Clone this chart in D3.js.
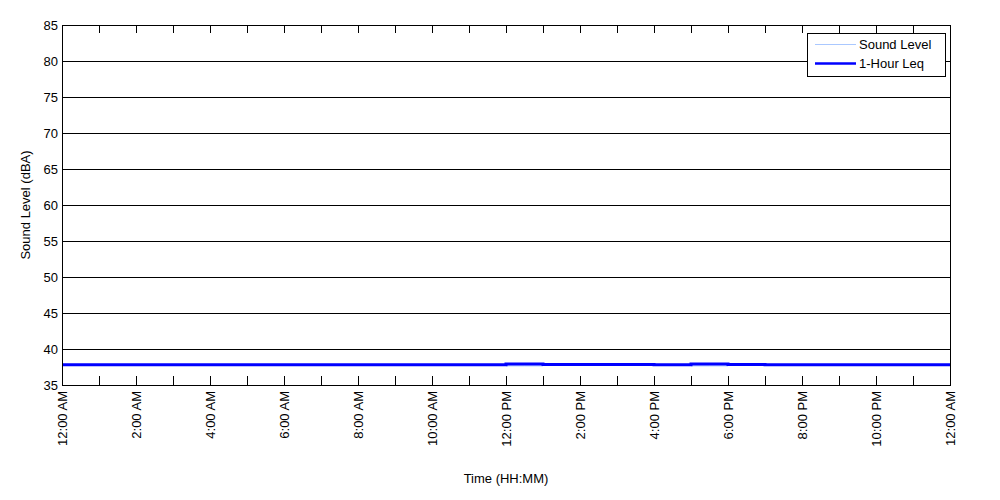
<!DOCTYPE html>
<html>
<head>
<meta charset="utf-8">
<script src="https://cdn.jsdelivr.net/npm/d3@7"></script>
<style>
  body { margin: 0; background: #fff; }
  svg text { font-family: "Liberation Sans", Arial, sans-serif; font-size: 12px; fill: #000; }
</style>
</head>
<body>
<svg id="chart" width="1000" height="500"></svg>
<script>
// Hourly 1-Hour Leq (hour start, value)
const leqHours = [0,1,2,3,4,5,6,7,8,9,10,11,12,13,14,15,16,17,18,19,20,21,22,23];
const leqValues = [37.8,37.8,37.8,37.8,37.8,37.8,37.8,37.8,37.8,37.8,37.8,37.8,
                   37.92,37.86,37.86,37.86,37.8,37.92,37.86,37.8,37.8,37.8,37.8,37.8];
// Sound level sampled every 30 minutes (hours)
const soundTimes = [0,0.5,1,1.5,2,2.5,3,3.5,4,4.5,5,5.5,6,6.5,7,7.5,8,8.5,9,9.5,10,10.5,11,11.5,
                    12,12.5,13,13.5,14,14.5,15,15.5,16,16.5,17,17.5,18,18.5,19,19.5,20,20.5,21,21.5,22,22.5,23,23.5,24];
const soundValues = [37.8,37.8,37.8,37.8,37.8,37.8,37.8,37.8,37.8,37.8,37.8,37.8,37.8,37.8,37.8,37.8,37.8,37.8,37.8,37.8,37.8,37.8,37.8,37.8,
                     37.65,37.65,37.8,37.8,37.8,37.8,37.8,37.8,37.8,37.8,37.65,37.65,37.8,37.8,37.8,37.8,37.8,37.8,37.8,37.8,37.8,37.8,37.8,37.8,37.8];
const xTickHours = [0,2,4,6,8,10,12,14,16,18,20,22,24];
const xTickLabels = ["12:00 AM","2:00 AM","4:00 AM","6:00 AM","8:00 AM","10:00 AM","12:00 PM","2:00 PM","4:00 PM","6:00 PM","8:00 PM","10:00 PM","12:00 AM"];
const yTicks = [35,40,45,50,55,60,65,70,75,80,85];
const seriesNames = ["Sound Level","1-Hour Leq"];
const seriesColors = ["#aac8ff","#0000ff"];

const svg = d3.select("#chart");
const L = 62, R = 950, T = 25, B = 385;
const x = d3.scaleLinear().domain([0,24]).range([L,R]);
const y = d3.scaleLinear().domain([35,85]).range([B,T]);

// gridlines
svg.append("g").selectAll("line").data(yTicks).join("line")
  .attr("x1", L).attr("x2", R)
  .attr("y1", d => Math.round(y(d)) + 0.5).attr("y2", d => Math.round(y(d)) + 0.5)
  .attr("stroke", "#000").attr("stroke-width", 1);

// minor/major ticks every hour, bottom & top, inward
const hourTicks = d3.range(1,24);
const tg = svg.append("g");
tg.selectAll("line.b").data(hourTicks).join("line")
  .attr("x1", d => Math.round(x(d)) + 0.5).attr("x2", d => Math.round(x(d)) + 0.5)
  .attr("y1", B).attr("y2", B - 9).attr("stroke", "#000");
tg.selectAll("line.t").data(hourTicks).join("line")
  .attr("x1", d => Math.round(x(d)) + 0.5).attr("x2", d => Math.round(x(d)) + 0.5)
  .attr("y1", T).attr("y2", T + 8).attr("stroke", "#000");

// sound level line
svg.append("path").datum(soundTimes.map((t,i) => [t, soundValues[i]]))
  .attr("fill", "none").attr("stroke", seriesColors[0]).attr("stroke-width", 1)
  .attr("d", d3.line().x(d => x(d[0])).y(d => y(d[1])).curve(d3.curveStepAfter));

// Leq step line
const leqPts = leqHours.map((h,i) => [h, leqValues[i]]);
leqPts.push([24, leqValues[leqValues.length-1]]);
svg.append("path").datum(leqPts)
  .attr("fill", "none").attr("stroke", seriesColors[1]).attr("stroke-width", 3)
  .attr("d", d3.line().x(d => x(d[0])).y(d => y(d[1])).curve(d3.curveStepAfter));

// frame
svg.append("rect").attr("x", L + 0.5).attr("y", T + 0.5)
  .attr("width", R - L - 1 + 1).attr("height", B - T)
  .attr("fill", "none").attr("stroke", "#000");

// y tick labels
svg.append("g").selectAll("text").data(yTicks).join("text")
  .attr("x", L - 4).attr("y", d => y(d)).attr("dy", "0.35em")
  .attr("text-anchor", "end").style("font-size", "13px").text(d => d);

// x tick labels rotated
svg.append("g").selectAll("text").data(xTickHours).join("text")
  .attr("transform", (d) => `translate(${x(d) + 5},${B + 6}) rotate(-90)`)
  .attr("text-anchor", "end").style("font-size", "13px")
  .text((d,i) => xTickLabels[i]);

// axis titles
svg.append("text").attr("x", (L + R) / 2).attr("y", 483)
  .attr("text-anchor", "middle").style("font-size", "13px").text("Time (HH:MM)");
svg.append("text").attr("transform", `translate(30,${(T + B) / 2}) rotate(-90)`)
  .attr("text-anchor", "middle").style("font-size", "13px").text("Sound Level (dBA)");

// legend
const lg = svg.append("g");
lg.append("rect").attr("x", 807.5).attr("y", 33.5).attr("width", 138).attr("height", 43)
  .attr("fill", "#fff").attr("stroke", "#000");
seriesNames.forEach((n, i) => {
  const yy = 44.5 + i * 19;
  lg.append("line").attr("x1", 815).attr("x2", 856).attr("y1", yy).attr("y2", yy)
    .attr("stroke", seriesColors[i]).attr("stroke-width", i === 0 ? 1 : 2.5);
  lg.append("text").attr("x", 859).attr("y", yy).attr("dy", "0.35em")
    .style("font-size", "13px").text(n);
});
</script>
</body>
</html>
